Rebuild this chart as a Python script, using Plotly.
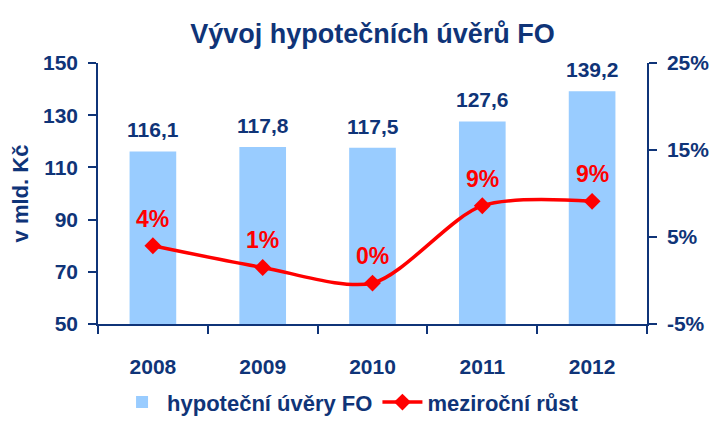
import plotly.graph_objects as go

NAVY = "#0F3478"
RED = "#FF0000"
BLUE = "#99CCFF"

years = ["2008", "2009", "2010", "2011", "2012"]
loans = [116.1, 117.8, 117.5, 127.6, 139.2]
growth = [4.0, 1.5, -0.3, 8.6, 9.1]
growth_labels = ["4%", "1%", "0%", "9%", "9%"]
left_ticks = [50, 70, 90, 110, 130, 150]
right_ticks = [-5, 5, 15, 25]

# Czech decimal comma for the bar labels
loan_labels = [f"{v:.1f}".replace(".", ",") for v in loans]

font = dict(family="Liberation Sans, Arial, sans-serif", color=NAVY, size=21)

fig = go.Figure()

fig.add_trace(go.Bar(
    x=years,
    y=loans,
    name="hypoteční úvěry FO",
    marker=dict(color=BLUE, line=dict(width=0)),
))

fig.add_trace(go.Scatter(
    x=years,
    y=growth,
    name="meziroční růst",
    yaxis="y2",
    mode="lines+markers",
    line=dict(color=RED, width=3.5, shape="spline", smoothing=0.8),
    marker=dict(symbol="diamond", size=13, color=RED),
    cliponaxis=False,
))

# category index as x so the year strings are not read as numbers
for i, (v, lab) in enumerate(zip(loans, loan_labels)):
    fig.add_annotation(
        x=i, y=v, text=f"<b>{lab}</b>", showarrow=False,
        yanchor="bottom", yshift=8,
        font=dict(color=NAVY, size=21),
    )

for i, (g, lab) in enumerate(zip(growth, growth_labels)):
    fig.add_annotation(
        x=i, y=g, yref="y2", text=f"<b>{lab}</b>",
        showarrow=False, yshift=27,
        font=dict(color=RED, size=23),
    )

# page body has an 8px margin, so the figure is shrunk by that much
fig.update_layout(
    width=713,
    height=427,
    margin=dict(l=90, r=70, t=55, b=111),
    paper_bgcolor="white",
    plot_bgcolor="white",
    font=font,
    bargap=0.575,
    showlegend=True,
    title=dict(
        text="<b>Vývoj hypotečních úvěrů FO</b>",
        x=0.5, xref="paper", xanchor="center",
        y=0.941, yref="container", yanchor="middle",
        font=dict(size=27, color=NAVY),
    ),
    legend=dict(
        orientation="h",
        x=0.46, xanchor="center",
        y=-0.3, yanchor="middle",
        font=dict(size=22, color=NAVY, weight="bold"),
        itemwidth=40,
    ),
    xaxis=dict(
        type="category",
        range=[-0.5, len(years) - 0.5],
        showline=True, linecolor=NAVY, linewidth=1.5,
        ticks="outside", ticklen=8, tickcolor=NAVY, tickwidth=1.5,
        tickson="boundaries",
        tickangle=0,
        tickfont=dict(size=21, color=NAVY, weight="bold"),
        ticklabelstandoff=23,
        showgrid=False,
    ),
    yaxis=dict(
        range=[50, 150],
        tickvals=left_ticks,
        showline=True, linecolor=NAVY, linewidth=1.5,
        ticks="outside", ticklen=8, tickcolor=NAVY, tickwidth=1.5,
        tickfont=dict(size=21, color=NAVY, weight="bold"),
        ticklabelstandoff=6,
        showgrid=False, zeroline=False,
        title=dict(text="<b>v mld. Kč</b>", font=dict(size=22, color=NAVY), standoff=8),
    ),
    yaxis2=dict(
        range=[-5, 25],
        tickvals=right_ticks,
        ticktext=[f"{t}%" for t in right_ticks],
        overlaying="y",
        side="right",
        showline=True, linecolor=NAVY, linewidth=1.5,
        ticks="outside", ticklen=8, tickcolor=NAVY, tickwidth=1.5,
        tickfont=dict(size=21, color=NAVY, weight="bold"),
        ticklabelstandoff=6,
        showgrid=False, zeroline=False,
    ),
)

fig.write_html("out.html")
